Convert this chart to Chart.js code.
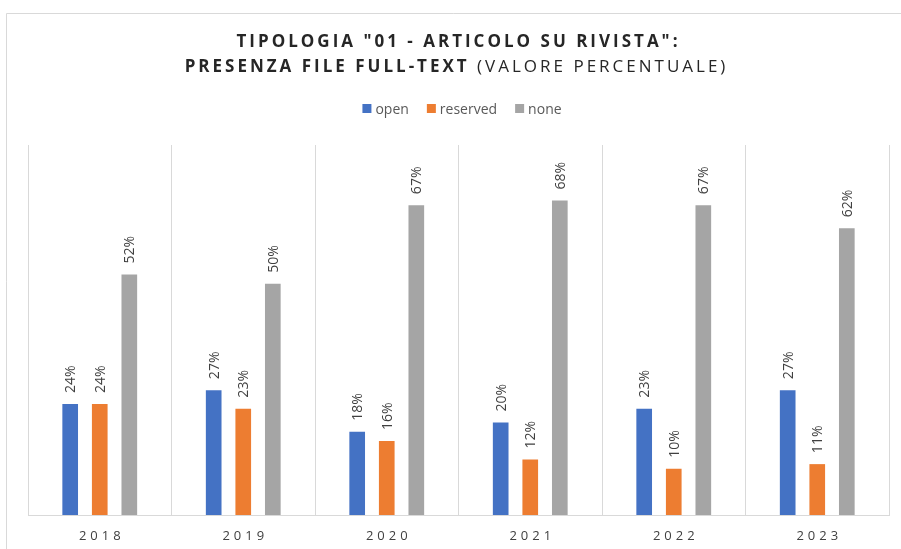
<!DOCTYPE html>
<html>
<head>
<meta charset="utf-8">
<script src="https://cdn.jsdelivr.net/npm/chart.js@4.4.1/dist/chart.umd.min.js"></script>
<style>
  html, body { margin: 0; padding: 0; background: #ffffff; }
  #wrap { width: 901px; height: 549px; position: relative; }
</style>
</head>
<body>
<div id="wrap"><canvas id="chart"></canvas></div>
<script>
// Categories and series (percent of records)
const years = ['2018', '2019', '2020', '2021', '2022', '2023'];
const openPct = [24, 27, 18, 20, 23, 27];
const reservedPct = [24, 23, 16, 12, 10, 11];
const nonePct = [52, 50, 67, 68, 67, 62];
const seriesNames = ['open', 'reserved', 'none'];
const seriesColors = ['#4472C4', '#ED7D31', '#A5A5A5'];

// Title texts
const titleLine1 = 'TIPOLOGIA "01 - ARTICOLO SU RIVISTA":';
const titleLine2Bold = 'PRESENZA FILE FULL-TEXT';
const titleLine2Rest = ' (VALORE PERCENTUALE)';

const FONT = '"Open Sans", "Noto Sans", sans-serif';
const GRID = '#d9d9d9';

// Width of a string drawn with extra spacing between letters
function spacedWidth(ctx, text, spacing) {
  return ctx.measureText(text).width + spacing * text.length;
}

const decorations = {
  id: 'decorations',
  beforeDraw(chart) {
    const ctx = chart.ctx;
    ctx.save();
    ctx.fillStyle = '#ffffff';
    ctx.fillRect(0, 0, chart.width, chart.height);
    // outer frame (left and top edges)
    ctx.strokeStyle = GRID;
    ctx.lineWidth = 1;
    ctx.beginPath();
    ctx.moveTo(6.5, chart.height);
    ctx.lineTo(6.5, 13.5);
    ctx.lineTo(chart.width, 13.5);
    ctx.stroke();
    ctx.restore();
    // spaced-out category labels on the x axis
    ctx.letterSpacing = '4px';
  },
  beforeDatasetsDraw(chart) {
    chart.ctx.letterSpacing = '0px';
  },
  afterDatasetsDraw(chart) {
    // rotated value labels above each bar
    const ctx = chart.ctx;
    ctx.save();
    ctx.letterSpacing = '0px';
    ctx.font = '14px ' + FONT;
    ctx.fillStyle = '#404040';
    ctx.textAlign = 'left';
    ctx.textBaseline = 'alphabetic';
    chart.data.datasets.forEach((ds, di) => {
      const meta = chart.getDatasetMeta(di);
      meta.data.forEach((bar, i) => {
        ctx.save();
        ctx.translate(bar.x, bar.y);
        ctx.rotate(-Math.PI / 2);
        ctx.fillText(ds.data[i] + '%', 11, 5);
        ctx.restore();
      });
    });
    ctx.restore();
  },
  afterDraw(chart) {
    const ctx = chart.ctx;
    ctx.save();
    ctx.textBaseline = 'alphabetic';
    ctx.textAlign = 'left';
    const cx = 457;
    const sp = 3;

    // title line 1
    ctx.fillStyle = '#262626';
    ctx.letterSpacing = '0px';
    ctx.font = 'bold 17px ' + FONT;
    let w1 = spacedWidth(ctx, titleLine1, sp) - sp;
    ctx.letterSpacing = sp + 'px';
    ctx.fillText(titleLine1, cx - w1 / 2, 47);

    // title line 2: bold part + regular part
    ctx.letterSpacing = '0px';
    ctx.font = 'bold 17px ' + FONT;
    const wb = spacedWidth(ctx, titleLine2Bold, sp);
    ctx.font = '17px ' + FONT;
    const wr = spacedWidth(ctx, titleLine2Rest, sp) - sp;
    let x = cx - (wb + wr) / 2 - 2;
    ctx.letterSpacing = sp + 'px';
    ctx.font = 'bold 17px ' + FONT;
    ctx.fillText(titleLine2Bold, x, 72);
    ctx.font = '17px ' + FONT;
    ctx.fillText(titleLine2Rest, x + wb, 72);

    // legend
    ctx.letterSpacing = '0px';
    ctx.font = '14px ' + FONT;
    const box = 9, gapText = 4, gapItem = 18;
    const items = chart.data.datasets.map(ds => ({
      label: ds.label, color: ds.backgroundColor, w: ctx.measureText(ds.label).width
    }));
    let total = 0;
    items.forEach((it, i) => { total += box + gapText + it.w + (i < items.length - 1 ? gapItem : 0); });
    let lx = 462 - total / 2;
    items.forEach(it => {
      ctx.fillStyle = it.color;
      ctx.fillRect(lx, 104, box, box);
      ctx.fillStyle = '#595959';
      ctx.fillText(it.label, lx + box + gapText, 114);
      lx += box + gapText + it.w + gapItem;
    });
    ctx.restore();
  }
};

const chart = new Chart(document.getElementById('chart'), {
  type: 'bar',
  data: {
    labels: years,
    datasets: [
      { label: seriesNames[0], data: openPct, backgroundColor: seriesColors[0] },
      { label: seriesNames[1], data: reservedPct, backgroundColor: seriesColors[1] },
      { label: seriesNames[2], data: nonePct, backgroundColor: seriesColors[2] }
    ]
  },
  options: {
    responsive: true,
    maintainAspectRatio: false,
    animation: false,
    layout: { padding: { top: 145, left: 28, right: 12, bottom: 0 } },
    datasets: {
      bar: { categoryPercentage: 0.618, barPercentage: 0.53, borderWidth: 0 }
    },
    plugins: {
      legend: { display: false },
      title: { display: false },
      tooltip: { enabled: false }
    },
    scales: {
      x: {
        grid: { color: GRID, lineWidth: 1, drawTicks: false, offset: true },
        border: { display: true, color: GRID, width: 1 },
        ticks: { color: '#404040', font: { family: FONT, size: 13 }, padding: 13, labelOffset: 2 },
        afterFit(scale) { scale.height = 34; }
      },
      y: {
        display: false,
        min: 0,
        max: 80
      }
    }
  },
  plugins: [decorations]
});
</script>
</body>
</html>
